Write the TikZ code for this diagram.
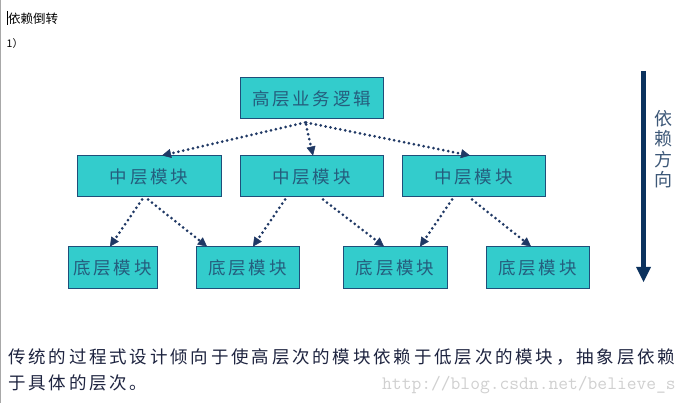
\documentclass[tikz,border=0pt]{standalone}
\usepackage{fontspec}
\setmainfont{Noto Sans CJK SC}
\newfontfamily\widefont[LetterSpace=16]{Noto Sans CJK SC}
\usetikzlibrary{arrows.meta}

\definecolor{boxfill}{HTML}{33CCCC}
\definecolor{boxline}{HTML}{1F4E79}
\definecolor{boxtext}{HTML}{255D7D}
\definecolor{depline}{HTML}{1F3864}
\definecolor{dirarrow}{HTML}{0B325E}
\definecolor{dirtext}{HTML}{3D5878}
\definecolor{desctext}{HTML}{1E2440}
\definecolor{wmgray}{HTML}{D0D0D0}
\definecolor{edgegray}{HTML}{A8A8A8}

\begin{document}
\begin{tikzpicture}[x=1pt,y=-1pt,
    box/.style={draw=boxline, line width=1pt, fill=boxfill, text=boxtext,
      font=\widefont\fontsize{17.5}{20}\selectfont, minimum height=41pt, inner sep=0pt},
    dep/.style={draw=depline, line width=3pt, line cap=round, dash pattern=on 0pt off 5pt,
      -{Triangle[length=9pt,width=9pt,line width=0.5pt]}}]
      % Page
      \fill[white] (0,0) rectangle (693,403);
      \useasboundingbox (0,0) rectangle (693,403);
      \draw[edgegray, line width=1pt] (0.5,0) -- (0.5,403);

      % Heading
      \draw[black, line width=0.8pt] (7.3,11) -- (7.3,25);
      \node[anchor=west, inner sep=0pt, font=\fontsize{12.5}{14}\selectfont] (title) at (8,18.5) {依赖倒转};
      \node[anchor=west, inner sep=0pt, font=\fontsize{10.5}{12}\selectfont] (step1) at (6.5,44) {1）};

      % Boxes
      \node[box, minimum width=143pt] (top) at (311.5,98.5) {高层业务逻辑};

      \node[box, minimum width=144pt] (mid1) at (149,176.5) {中层模块};
      \node[box, minimum width=143pt] (mid2) at (311.5,176.5) {中层模块};
      \node[box, minimum width=143pt] (mid3) at (473.5,176.5) {中层模块};

      \node[box, minimum width=89pt]  (bot1) at (112.5,267.5) {底层模块};
      \node[box, minimum width=103pt] (bot2) at (247.5,267.5) {底层模块};
      \node[box, minimum width=104pt] (bot3) at (395,267.5) {底层模块};
      \node[box, minimum width=103pt] (bot4) at (537.5,267.5) {底层模块};

      % Dependencies, top to middle
      \draw[dep] ([xshift=-6.5pt,yshift=-3pt]top.south) -- ([xshift=13pt]mid1.north);
      \draw[dep] ([xshift=-5.5pt,yshift=-5pt]top.south) -- ([xshift=1.5pt]mid2.north);
      \draw[dep] ([xshift=-5.5pt,yshift=-3pt]top.south) -- ([xshift=-3.5pt]mid3.north);

      % Dependencies, middle to bottom
      \foreach \a/\sa/\b/\sb in {mid1/-7/bot1/-2.5, mid1/-1/bot2/-40.5,
                                 mid2/-26.5/bot2/5.5, mid2/11.5/bot3/-11,
                                 mid3/-21.5/bot3/25, mid3/-1.5/bot4/-6.5} {
        \draw[dep] ([xshift=\sa pt,yshift=-2pt]\a.south) -- ([xshift=\sb pt]\b.north);
      }

      % Direction arrow
      \coordinate (dirtop) at (643.5,71);
      \coordinate (dirbot) at (643.5,282);
      \draw[dirarrow, line width=5pt, -{Triangle[length=15pt,width=15pt,line width=0pt]}] (dirtop) -- (dirbot);
      \node[text=dirtext, align=center, inner sep=0pt, font=\fontsize{18}{20.5}\selectfont] (dirlabel) at (663.5,149) {依\\赖\\方\\向};

      % Description
      \node[anchor=west, inner sep=0pt, text=desctext, font=\widefont\fontsize{17.5}{20}\selectfont] (desc1) at (8,357.5)
        {传统的过程式设计倾向于使高层次的模块依赖于低层次的模块，抽象层依赖};
      \node[anchor=west, inner sep=0pt, text=desctext, font=\widefont\fontsize{17.5}{20}\selectfont] (desc2) at (8,382.5)
        {于具体的层次。};
      \node[anchor=base west, inner sep=0pt, text=wmgray, font=\ttfamily\fontsize{19}{20}\selectfont] (watermark) at (382,389)
        {http://blog.csdn.net/believe\_s};
    \end{tikzpicture}
\end{document}
